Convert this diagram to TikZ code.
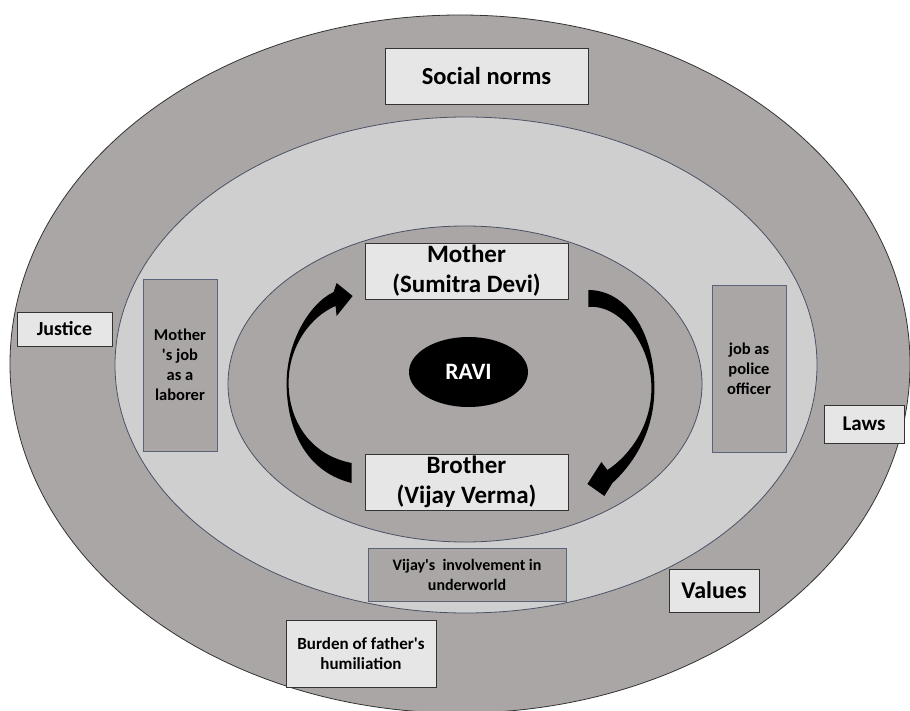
\documentclass[tikz,border=0pt]{standalone}
\usepackage{fontspec}
\setmainfont{Carlito}[Ligatures=TeXOff]
\usetikzlibrary{positioning, shapes.geometric, calc}
\definecolor{ringdark}{HTML}{AAA6A6}
\definecolor{ringlight}{HTML}{D0CFD0}
\definecolor{ringline}{HTML}{4A5264}
\definecolor{boxfill}{HTML}{E6E6E6}
\definecolor{boxline}{HTML}{333333}
\definecolor{innerline}{HTML}{5A6378}

\begin{document}
\begin{tikzpicture}[x=1pt, y=-1pt,
    ring/.style={draw=ringline, line width=0.8pt},
    outerbox/.style={draw=boxline, fill=boxfill, line width=0.8pt, inner sep=2pt, align=center, font=\bfseries\fontsize{21}{24}\selectfont},
    innerbox/.style={draw=innerline, fill=ringdark, line width=0.8pt, inner sep=2pt, align=center, font=\bfseries\fontsize{16.5}{20}\selectfont},
    person/.style={outerbox, minimum width=203pt, minimum height=56pt, font=\bfseries\fontsize{25}{30}\selectfont},
    bigarrow/.style={fill=black},
    ]
    \useasboundingbox (0,0) rectangle (910,711);
    \clip (0,0) rectangle (910,711);

    % Rings (outer, middle, inner)
    \draw[ring, draw=boxline, fill=ringdark] (460,364) ellipse [x radius=450pt, y radius=349pt];
    \draw[ring, fill=ringlight] (466,365) ellipse [x radius=351pt, y radius=248pt];
    \draw[ring, fill=ringdark] (465,384) ellipse [x radius=237pt, y radius=158pt];

    % Outer ring labels
    \node[outerbox, minimum width=203pt, minimum height=56pt, font=\bfseries\fontsize{24.5}{28}\selectfont] (norms) at (486.5,76) {Social norms};
    \node[outerbox, minimum width=95pt, minimum height=34pt, font=\bfseries\fontsize{20}{23}\selectfont] (justice) at (64.5,329) {Justice};
    \node[outerbox, minimum width=80pt, minimum height=38pt] (laws) at (864,424) {Laws};
    \node[outerbox, minimum width=90pt, minimum height=43pt, font=\bfseries\fontsize{24}{28}\selectfont] (values) at (714,590.5) {Values};
    \node[outerbox, minimum width=150pt, minimum height=67pt, font=\bfseries\fontsize{17}{20}\selectfont] (burden) at (361,653.5) {Burden of father's\\humiliation};

    % Middle ring labels
    \node[innerbox, minimum width=74pt, minimum height=172pt] (laborer) at (180,365) {Mother\\'s job\\as a\\laborer};
    \node[innerbox, minimum width=74pt, minimum height=167pt] (police) at (749,368.5) {job as\\police\\officer};
    \node[innerbox, minimum width=198pt, minimum height=53pt, font=\bfseries\fontsize{16}{20}\selectfont] (underworld) at (467,574.5) {Vijay's\ \ involvement in\\underworld};

    % Family
    \node[person] (mother) at (466.5,271) {Mother\\(Sumitra Devi)};
    \node[person] (brother) at (466.5,482) {Brother\\(Vijay Verma)};
    \node[ellipse, fill=black, minimum width=119pt, minimum height=70pt, inner sep=0pt, text=white, font=\bfseries\fontsize{23.5}{28}\selectfont] (ravi) at (468.5,372) {RAVI};

    % Curved arrows
    \fill[bigarrow]
      ($(brother.west)+(-13,1)$)
      .. controls +(-52,-13) and +(0,37) .. ($(brother.west)+(-78,-99)$)
      .. controls +(0,-40) and +(-25,12) .. ($(mother.west)+(-31,21)$)
      -- ($(mother.west)+(-28,12)$)
      -- ($(mother.west)+(-12,25)$)
      -- ($(mother.west)+(-28,45)$)
      -- ($(mother.west)+(-29,35)$)
      .. controls +(-24,10) and +(0,-38) .. ($(brother.west)+(-76,-99)$)
      .. controls +(0,37) and +(-42,-8) .. ($(brother.west)+(-13,-19)$)
      -- cycle;
    \fill[bigarrow]
      ($(mother.east)+(20,19)$)
      .. controls +(37,0) and +(0,-58) .. ($(mother.east)+(86,117)$)
      .. controls +(0,42) and +(23,-21) .. ($(brother.east)+(44,1)$)
      -- ($(brother.east)+(36,14)$)
      -- ($(brother.east)+(19,2)$)
      -- ($(brother.east)+(33,-20)$)
      -- ($(brother.east)+(39,-12)$)
      .. controls +(23,-15) and +(0,37) .. ($(mother.east)+(83,117)$)
      .. controls +(0,-43) and +(32,-3) .. ($(mother.east)+(20,36)$)
      -- cycle;
\end{tikzpicture}
\end{document}
